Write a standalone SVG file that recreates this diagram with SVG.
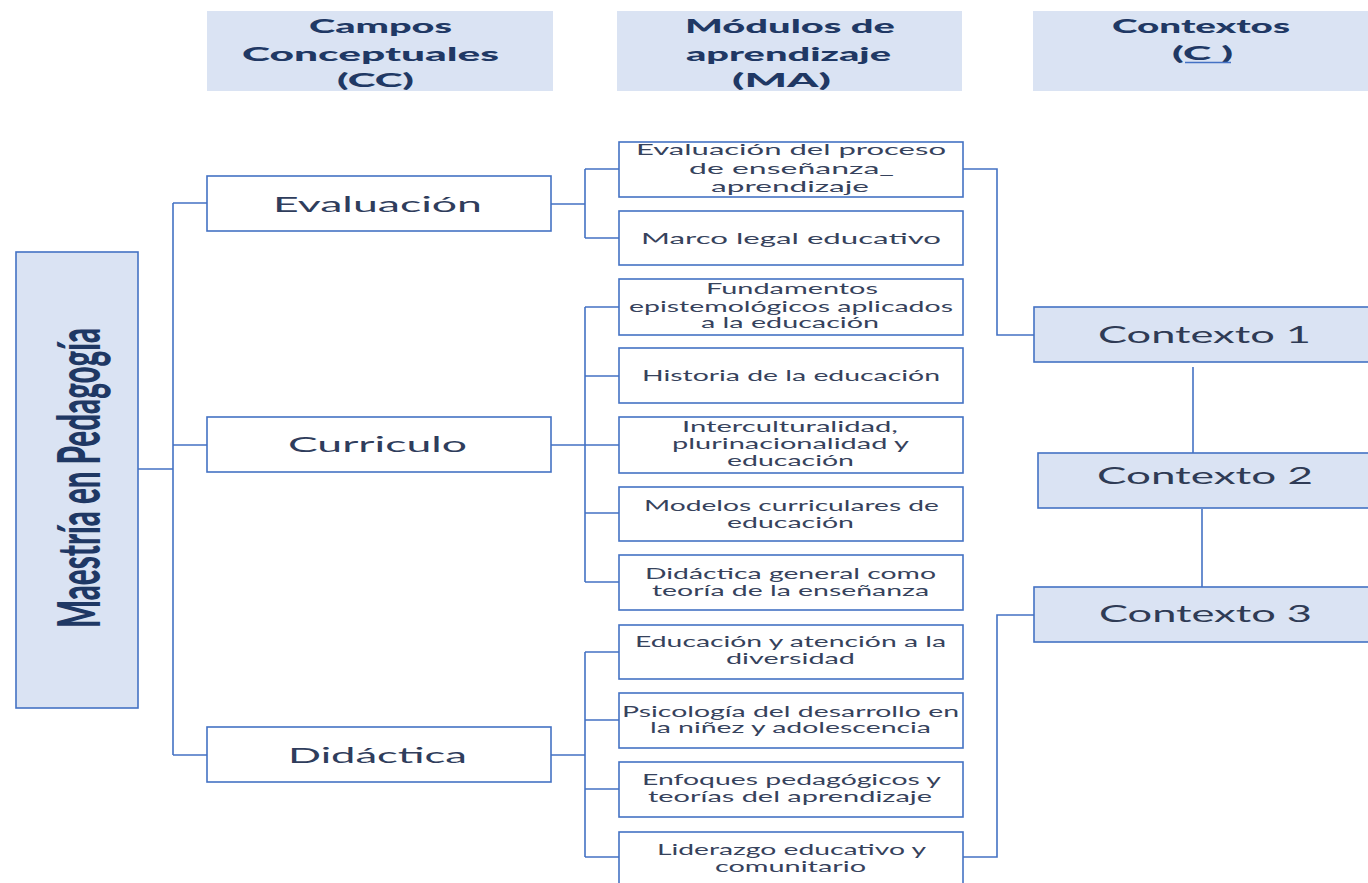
<svg xmlns="http://www.w3.org/2000/svg" width="1368" height="883" viewBox="0 0 1368 883">
<style>
.hdr{fill:#dae3f3;stroke:none}
.ht{font-family:Lato,"Liberation Sans",sans-serif;font-weight:900;font-size:18px;fill:#203864}
.box{fill:#ffffff;stroke:#4472c4;stroke-width:1.6}
.cbox{fill:#dae3f3;stroke:#4472c4;stroke-width:1.6}
.mt{font-family:Lato,"Liberation Sans",sans-serif;font-size:15px;fill:#36425c}
.ct{font-family:Lato,"Liberation Sans",sans-serif;font-size:21px;fill:#2f3d5c}
.xt{font-family:Lato,"Liberation Sans",sans-serif;font-size:23px;fill:#2f3b55}
.rt{font-family:Lato,"Liberation Sans",sans-serif;font-weight:900;font-size:30px;fill:#1f3864}
.ln{fill:none;stroke:#4472c4;stroke-width:1.6}
</style>
<rect width="1368" height="883" fill="#ffffff"/>

<g id="header-cc">
<rect class="hdr" x="207" y="11" width="346" height="80"/>
<text class="ht" x="309" y="33" textLength="143" lengthAdjust="spacingAndGlyphs">Campos</text>
<text class="ht" x="242" y="61" textLength="257" lengthAdjust="spacingAndGlyphs">Conceptuales</text>
<text class="ht" x="337" y="87" textLength="77" lengthAdjust="spacingAndGlyphs">(CC)</text>
</g>
<g id="header-ma">
<rect class="hdr" x="617" y="11" width="345" height="80"/>
<text class="ht" x="685" y="33" textLength="210" lengthAdjust="spacingAndGlyphs">Módulos de</text>
<text class="ht" x="686" y="61" textLength="205" lengthAdjust="spacingAndGlyphs">aprendizaje</text>
<text class="ht" x="732" y="87" textLength="99" lengthAdjust="spacingAndGlyphs">(MA)</text>
</g>
<g id="header-c">
<rect class="hdr" x="1033" y="11" width="340" height="80"/>
<text class="ht" x="1112" y="33" textLength="178" lengthAdjust="spacingAndGlyphs">Contextos</text>
<text class="ht" x="1172" y="60" textLength="61" lengthAdjust="spacingAndGlyphs">(C )</text>
<line x1="1185" y1="62.5" x2="1231" y2="62.5" stroke="#4472c4" stroke-width="1.5"/>
</g>

<g id="connectors">
<path class="ln" d="M138,469 H173 M173,203 V755 M173,203 H207 M173,445 H207 M173,755 H207"/>
<path class="ln" d="M551,204 H585 M585,169 V238 M585,169 H619 M585,238 H619"/>
<path class="ln" d="M551,445 H585 M585,307 V582 M585,307 H619 M585,376 H619 M585,445 H619 M585,513 H619 M585,582 H619"/>
<path class="ln" d="M551,755 H585 M585,652 V857 M585,652 H619 M585,720 H619 M585,789 H619 M585,857 H619"/>
<path class="ln" d="M963,169 H997 V335 H1034"/>
<path class="ln" d="M963,857 H997 V615 H1034"/>
<path class="ln" d="M1193,367 V453"/>
<path class="ln" d="M1202,509 V587"/>
</g>

<g id="maestria">
<rect class="cbox" x="16" y="252" width="122" height="456"/>
<text class="rt" transform="translate(100,628) rotate(-90) scale(1,1.95)" x="0" y="0" textLength="300" lengthAdjust="spacingAndGlyphs">Maestría en Pedagogía</text>
</g>

<g id="cc-evaluacion">
<rect class="box" x="207" y="176" width="344" height="55"/>
<text class="ct" x="273" y="212" textLength="209" lengthAdjust="spacingAndGlyphs">Evaluación</text>
</g>
<g id="cc-curriculo">
<rect class="box" x="207" y="417" width="344" height="55"/>
<text class="ct" x="288" y="452" textLength="179" lengthAdjust="spacingAndGlyphs">Curriculo</text>
</g>
<g id="cc-didactica">
<rect class="box" x="207" y="727" width="344" height="55"/>
<text class="ct" x="288" y="763" textLength="179" lengthAdjust="spacingAndGlyphs">Didáctica</text>
</g>

<g id="ma-1">
<rect class="box" x="619" y="142" width="344" height="55"/>
<text class="mt" x="636" y="155" textLength="310" lengthAdjust="spacingAndGlyphs">Evaluación del proceso</text>
<text class="mt" x="689" y="174" textLength="205" lengthAdjust="spacingAndGlyphs">de enseñanza_</text>
<text class="mt" x="711" y="192" textLength="158" lengthAdjust="spacingAndGlyphs">aprendizaje</text>
</g>
<g id="ma-2">
<rect class="box" x="619" y="211" width="344" height="54"/>
<text class="mt" x="641" y="244" textLength="300" lengthAdjust="spacingAndGlyphs">Marco legal educativo</text>
</g>
<g id="ma-3">
<rect class="box" x="619" y="279" width="344" height="56"/>
<text class="mt" x="706" y="294" textLength="172" lengthAdjust="spacingAndGlyphs">Fundamentos</text>
<text class="mt" x="629" y="312" textLength="324" lengthAdjust="spacingAndGlyphs">epistemológicos aplicados</text>
<text class="mt" x="701" y="328" textLength="178" lengthAdjust="spacingAndGlyphs">a la educación</text>
</g>
<g id="ma-4">
<rect class="box" x="619" y="348" width="344" height="55"/>
<text class="mt" x="642" y="381" textLength="298" lengthAdjust="spacingAndGlyphs">Historia de la educación</text>
</g>
<g id="ma-5">
<rect class="box" x="619" y="417" width="344" height="56"/>
<text class="mt" x="682" y="432" textLength="216" lengthAdjust="spacingAndGlyphs">Interculturalidad,</text>
<text class="mt" x="672" y="449" textLength="237" lengthAdjust="spacingAndGlyphs">plurinacionalidad y</text>
<text class="mt" x="727" y="466" textLength="127" lengthAdjust="spacingAndGlyphs">educación</text>
</g>
<g id="ma-6">
<rect class="box" x="619" y="487" width="344" height="54"/>
<text class="mt" x="644" y="511" textLength="295" lengthAdjust="spacingAndGlyphs">Modelos curriculares de</text>
<text class="mt" x="727" y="528" textLength="127" lengthAdjust="spacingAndGlyphs">educación</text>
</g>
<g id="ma-7">
<rect class="box" x="619" y="555" width="344" height="55"/>
<text class="mt" x="645" y="579" textLength="291" lengthAdjust="spacingAndGlyphs">Didáctica general como</text>
<text class="mt" x="652" y="596" textLength="277" lengthAdjust="spacingAndGlyphs">teoría de la enseñanza</text>
</g>
<g id="ma-8">
<rect class="box" x="619" y="625" width="344" height="54"/>
<text class="mt" x="635" y="647" textLength="311" lengthAdjust="spacingAndGlyphs">Educación y atención a la</text>
<text class="mt" x="726" y="664" textLength="129" lengthAdjust="spacingAndGlyphs">diversidad</text>
</g>
<g id="ma-9">
<rect class="box" x="619" y="693" width="344" height="55"/>
<text class="mt" x="622" y="717" textLength="337" lengthAdjust="spacingAndGlyphs">Psicología del desarrollo en</text>
<text class="mt" x="650" y="733" textLength="281" lengthAdjust="spacingAndGlyphs">la niñez y adolescencia</text>
</g>
<g id="ma-10">
<rect class="box" x="619" y="762" width="344" height="55"/>
<text class="mt" x="642" y="785" textLength="299" lengthAdjust="spacingAndGlyphs">Enfoques pedagógicos y</text>
<text class="mt" x="648" y="802" textLength="284" lengthAdjust="spacingAndGlyphs">teorías del aprendizaje</text>
</g>
<g id="ma-11">
<rect class="box" x="619" y="832" width="344" height="60"/>
<text class="mt" x="657" y="855" textLength="269" lengthAdjust="spacingAndGlyphs">Liderazgo educativo y</text>
<text class="mt" x="715" y="872" textLength="151" lengthAdjust="spacingAndGlyphs">comunitario</text>
</g>

<g id="contexto-1">
<rect class="cbox" x="1034" y="307" width="340" height="55"/>
<text class="xt" x="1098" y="343" textLength="213" lengthAdjust="spacingAndGlyphs">Contexto 1</text>
</g>
<g id="contexto-2">
<rect class="cbox" x="1038" y="453" width="336" height="55"/>
<text class="xt" x="1097" y="484" textLength="216" lengthAdjust="spacingAndGlyphs">Contexto 2</text>
</g>
<g id="contexto-3">
<rect class="cbox" x="1034" y="587" width="340" height="55"/>
<text class="xt" x="1099" y="622" textLength="213" lengthAdjust="spacingAndGlyphs">Contexto 3</text>
</g>
</svg>
